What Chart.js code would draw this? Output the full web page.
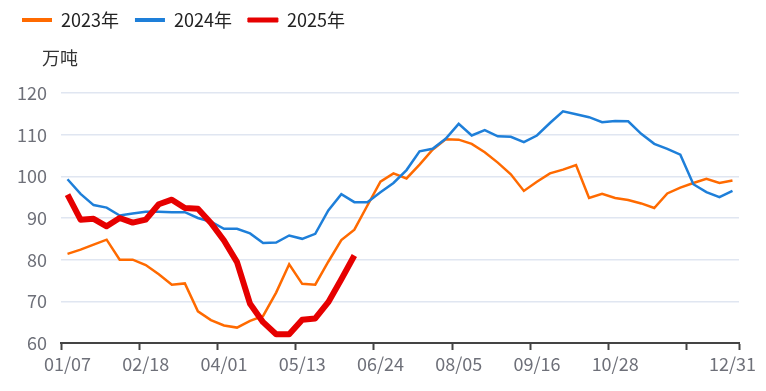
<!DOCTYPE html>
<html>
<head>
<meta charset="utf-8">
<script src="https://cdn.jsdelivr.net/npm/chart.js@4/dist/chart.umd.min.js"></script>
<style>
  html, body { margin: 0; padding: 0; background: #fff; }
  #wrap { width: 766px; height: 391px; }
</style>
</head>
<body>
<div id="wrap"><canvas id="chart"></canvas></div>
<script>
// Weekly categories
const weeks = [
  "01/07", "01/14", "01/21", "01/28", "02/04", "02/11", "02/18", "02/25",
  "03/04", "03/11", "03/18", "03/25", "04/01", "04/08", "04/15", "04/22", "04/29",
  "05/06", "05/13", "05/20", "05/27", "06/03", "06/10", "06/17", "06/24",
  "07/01", "07/08", "07/15", "07/22", "07/29", "08/05", "08/12", "08/19", "08/26",
  "09/02", "09/09", "09/16", "09/23", "09/30", "10/07", "10/14", "10/21", "10/28",
  "11/04", "11/11", "11/18", "11/25", "12/02", "12/09", "12/16", "12/23", "12/31"
];

// Labels shown on the x axis, and where tick marks go
const shownLabels = ["01/07", "02/18", "04/01", "05/13", "06/24", "08/05", "09/16", "10/28", "12/31"];
const tickMarks = ["01/07", "02/18", "04/01", "05/13", "06/24", "08/05", "09/16", "10/28", "12/09"];

// Series (万吨)
const y2023 = [
  81.4, 82.4, 83.6, 84.8, 80.0, 80.0, 78.7, 76.5, 74.0, 74.3,
  67.6, 65.5, 64.2, 63.7, 65.3, 66.5, 72.1, 78.9, 74.2, 74.0,
  79.5, 84.7, 87.2, 93.0, 98.7, 100.7, 99.5, 102.8, 106.4, 108.9,
  108.8, 107.8, 105.8, 103.3, 100.5, 96.5, 98.7, 100.7, 101.6, 102.7,
  94.8, 95.8, 94.8, 94.3, 93.5, 92.4, 95.9, 97.3, 98.4, 99.4,
  98.4, 99.0
];
const y2024 = [
  99.3, 95.8, 93.1, 92.5, 90.6, 91.1, 91.5, 91.5, 91.4, 91.4,
  90.0, 89.1, 87.4, 87.4, 86.3, 84.0, 84.1, 85.8, 85.0, 86.2,
  91.8, 95.7, 93.8, 93.8, 96.2, 98.4, 101.5, 106.0, 106.6, 109.0,
  112.6, 109.8, 111.1, 109.6, 109.5, 108.2, 109.8, 112.8, 115.6, 114.9,
  114.2, 113.0, 113.3, 113.2, 110.2, 107.8, 106.6, 105.2, 98.1, 96.2,
  95.0, 96.5
];
const y2025 = [
  95.6, 89.6, 89.8, 88.0, 90.0, 88.9, 89.6, 93.3, 94.4, 92.4,
  92.2, 88.8, 84.6, 79.4, 69.4, 65.0, 62.1, 62.1, 65.6, 65.9,
  69.8, 75.3, 81.0
];

const FONT = "'Noto Sans CJK SC', 'Noto Sans', sans-serif";

// Unit label above the y axis
const unitLabel = {
  id: "unitLabel",
  afterDraw(chart) {
    const ctx = chart.ctx;
    ctx.save();
    ctx.font = "18px " + FONT;
    ctx.fillStyle = "#333";
    ctx.textAlign = "left";
    ctx.textBaseline = "middle";
    ctx.fillText("万吨", chart.chartArea.left - 19, 58);
    ctx.restore();
  }
};

// Make the legend box taller so the unit label fits under it
const legendSpace = {
  id: "legendSpace",
  beforeLayout(chart) {
    const lg = chart.legend;
    if (lg && !lg._spaced) {
      const fit = lg.fit;
      lg.fit = function () {
        fit.call(this);
        this.height = 98;
      };
      lg._spaced = true;
    }
  }
};

const ctx = document.getElementById("chart").getContext("2d");

const chart = new Chart(ctx, {
  type: "line",
  data: {
    labels: weeks,
    datasets: [
      {
        label: "2023年",
        data: y2023,
        borderColor: "#FF6A00",
        backgroundColor: "#FF6A00",
        borderWidth: 2.5,
        pointRadius: 0,
        tension: 0,
        order: 2
      },
      {
        label: "2024年",
        data: y2024,
        borderColor: "#1E7FD9",
        backgroundColor: "#1E7FD9",
        borderWidth: 2.5,
        pointRadius: 0,
        tension: 0,
        order: 1
      },
      {
        label: "2025年",
        data: y2025,
        borderColor: "#E60000",
        backgroundColor: "#E60000",
        borderWidth: 6,
        borderJoinStyle: "round",
        pointRadius: 0,
        tension: 0,
        order: 0
      }
    ]
  },
  options: {
    responsive: true,
    maintainAspectRatio: false,
    animation: false,
    layout: {
      padding: { top: -5, left: 6, right: 27, bottom: 0 }
    },
    plugins: {
      tooltip: { enabled: false },
      legend: {
        align: "start",
        labels: {
          boxWidth: 30,
          boxHeight: 4,
          padding: 16,
          color: "#222",
          font: { size: 18, family: FONT },
          sort: (a, b) => a.datasetIndex - b.datasetIndex,
          generateLabels(chart) {
            const items = Chart.defaults.plugins.legend.labels.generateLabels(chart);
            items.forEach(it => {
              it.fillStyle = it.strokeStyle;
              it.lineWidth = it.datasetIndex === 2 ? 1 : 0;
            });
            return items;
          }
        }
      }
    },
    scales: {
      x: {
        offset: true,
        grid: {
          offset: true,
          drawOnChartArea: false,
          tickLength: 7,
          tickWidth: 2,
          tickColor: (c) => (c.index === undefined || tickMarks.includes(weeks[c.index])) ? "#444" : "rgba(0,0,0,0)"
        },
        border: { color: "#444", width: 2 },
        ticks: {
          autoSkip: false,
          maxRotation: 0,
          padding: 3,
          color: "#6E7079",
          font: { size: 18, family: FONT },
          callback: function (value, index) {
            const lab = weeks[index];
            return shownLabels.includes(lab) ? lab : "";
          }
        },
        afterFit(scale) {
          scale.height = 48;
        }
      },
      y: {
        min: 60,
        max: 120,
        grid: {
          color: "#E0E6F1",
          lineWidth: 1.5,
          drawTicks: false
        },
        border: { display: false },
        ticks: {
          stepSize: 10,
          padding: 14,
          color: "#6E7079",
          font: { size: 18, family: FONT }
        },
        afterFit(scale) {
          scale.width = 55;
        }
      }
    }
  },
  plugins: [legendSpace, unitLabel]
});
</script>
</body>
</html>
